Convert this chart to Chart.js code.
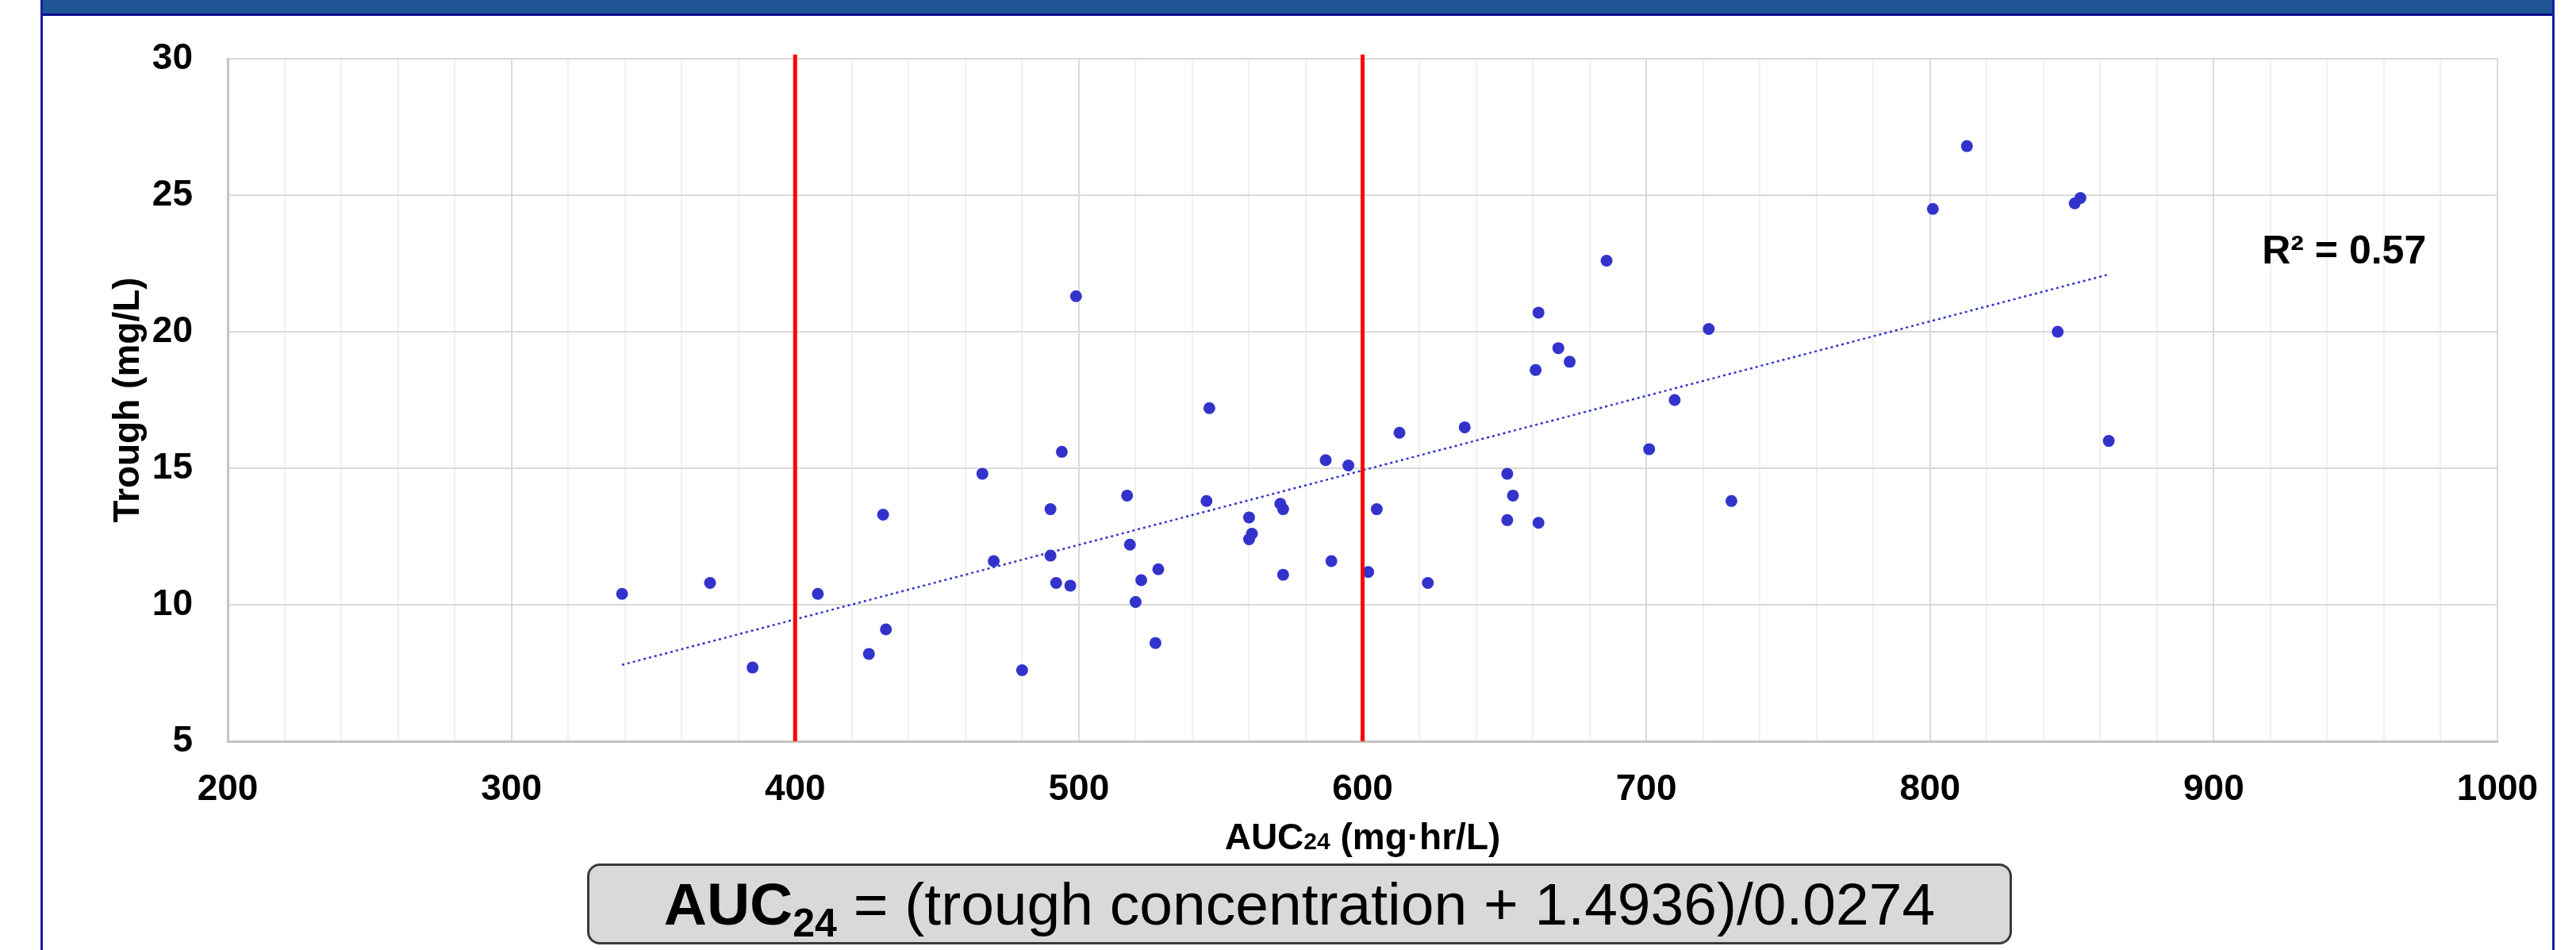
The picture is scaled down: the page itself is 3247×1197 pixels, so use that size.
<!DOCTYPE html>
<html>
<head>
<meta charset="utf-8">
<script src="https://cdn.jsdelivr.net/npm/chart.js@4.4.1/dist/chart.umd.min.js"></script>
<style>
    body { margin: 0; background: #ffffff; }
    #page { position: relative; width: 3247px; height: 1197px; overflow: hidden; font-family: "Liberation Sans", Arial, sans-serif; }
    #troughAucChart { position: absolute; left: 0; top: 0; }
    #banner { position: absolute; left: 52px; top: 0; width: 3168px; height: 17px; background: #1f5597; border-bottom: 3px solid #0a0a8c; }
    .frame-side { position: absolute; top: 0; width: 3px; height: 1197px; background: #1c1caa; }
    #formula-box {
        position: absolute; left: 740px; top: 1088px; width: 1790px; height: 96px;
        background: #d9d9d9; border: 3px solid #3a3a3a; border-radius: 16px;
        display: flex; align-items: center; justify-content: center;
        font-size: 75px; color: #000; white-space: nowrap;
    }
    #formula-box b sub { font-size: 50px; vertical-align: -15px; line-height: 0; }
</style>
</head>
<body>
<div id="page">
    <canvas id="troughAucChart" width="3247" height="1197"></canvas>
    <div id="banner"></div>
    <div class="frame-side" style="left: 51px;"></div>
    <div class="frame-side" style="left: 3217px;"></div>
    <div id="formula-box"><span><b>AUC<sub>24</sub></b> = (trough concentration + 1.4936)/0.0274</span></div>
</div>
<script>
// AUC24 (mg·hr/L) and trough (mg/L) for each patient
const aucValues = [
    339, 370, 385, 408, 426, 431, 432,
    466, 470, 480, 490, 490, 492, 494, 497, 499,
    517, 518, 520, 522, 527, 528, 545, 546,
    560, 560, 561, 571, 572, 572, 587, 589, 595,
    602, 605, 613, 623, 636, 651, 651, 653, 661, 662, 662, 669, 673,
    686, 701, 710, 722, 730, 801, 813, 845, 851, 853, 863
];
const troughValues = [
    10.4, 10.8, 7.7, 10.4, 8.2, 13.3, 9.1,
    14.8, 11.6, 7.6, 13.5, 11.8, 10.8, 15.6, 10.7, 21.3,
    14.0, 12.2, 10.1, 10.9, 8.6, 11.3, 13.8, 17.2,
    13.2, 12.4, 12.6, 13.7, 13.5, 11.1, 15.3, 11.6, 15.1,
    11.2, 13.5, 16.3, 10.8, 16.5, 14.8, 13.1, 14.0, 18.6, 20.7, 13.0, 19.4, 18.9,
    22.6, 15.7, 17.5, 20.1, 13.8, 24.5, 26.8, 20.0, 24.7, 24.9, 16.0
];

// linear trendline end points
const trendX = [339, 863];
const trendY = [7.8, 22.1];

// AUC24 target window
const targetLines = [400, 600];

const xTickStep = 20;
const xLabelStep = 100;
const yTicks = [5, 10, 15, 20, 25, 30];

const yAxisTitle = 'Trough (mg/L)';
const r2Label = 'R\u00B2 = 0.57';

const pointColor = '#3333cc';
const fontFamily = '"Liberation Sans", Arial, sans-serif';

const scatterPoints = aucValues.map((auc, i) => ({ x: auc, y: troughValues[i] }));
const trendPoints = trendX.map((x, i) => ({ x: x, y: trendY[i] }));

const targetDatasets = targetLines.map(value => ({
    data: [{ x: value, y: yTicks[0] }, { x: value, y: yTicks[yTicks.length - 1] + 0.15 }],
    showLine: true,
    borderColor: '#ff0000',
    borderWidth: 5,
    pointRadius: 0,
    clip: false,
    order: 0
}));

const chartTextPlugin = {
    id: 'chartText',
    afterDraw(chart) {
        const ctx = chart.ctx;
        const area = chart.chartArea;
        const xScale = chart.scales.x;
        const yScale = chart.scales.y;

        ctx.save();
        ctx.fillStyle = '#000000';

        // y axis title
        ctx.save();
        ctx.translate(162, (area.top + area.bottom) / 2);
        ctx.rotate(-Math.PI / 2);
        ctx.font = 'bold 46px ' + fontFamily;
        ctx.textAlign = 'center';
        ctx.textBaseline = 'middle';
        ctx.fillText(yAxisTitle, 0, 0);
        ctx.restore();

        // x axis title: AUC + small 24 + units
        const parts = [
            { text: 'AUC', font: 'bold 46px ' + fontFamily },
            { text: '24', font: 'bold 30px ' + fontFamily },
            { text: ' (mg\u00B7hr/L)', font: 'bold 46px ' + fontFamily }
        ];
        let totalWidth = 0;
        parts.forEach(p => {
            ctx.font = p.font;
            p.width = ctx.measureText(p.text).width;
            totalWidth += p.width;
        });
        let xPos = (area.left + area.right) / 2 - totalWidth / 2;
        ctx.textAlign = 'left';
        ctx.textBaseline = 'alphabetic';
        parts.forEach(p => {
            ctx.font = p.font;
            ctx.fillText(p.text, xPos, 1070);
            xPos += p.width;
        });

        // R² label
        ctx.font = 'bold 50px ' + fontFamily;
        ctx.fillText(r2Label, xScale.getPixelForValue(917), yScale.getPixelForValue(22.5));

        ctx.restore();
    }
};

const troughAucCtx = document.getElementById('troughAucChart').getContext('2d');

const troughAucChart = new Chart(troughAucCtx, {
    type: 'scatter',
    data: {
        datasets: [
            ...targetDatasets,
            {
                data: scatterPoints,
                backgroundColor: pointColor,
                borderWidth: 0,
                pointRadius: 7.5,
                order: 1
            },
            {
                data: trendPoints,
                showLine: true,
                borderColor: pointColor,
                borderWidth: 2.5,
                borderDash: [3, 4],
                pointRadius: 0,
                order: 2
            }
        ]
    },
    options: {
        responsive: false,
        animation: false,
        devicePixelRatio: 1,
        layout: {
            padding: { left: 52, top: 74, right: 99, bottom: 0 }
        },
        plugins: {
            legend: { display: false },
            tooltip: { enabled: false }
        },
        scales: {
            x: {
                type: 'linear',
                min: 200,
                max: 1000,
                afterFit: function(scale) {
                    scale.height = 263;
                },
                ticks: {
                    stepSize: xTickStep,
                    padding: 34,
                    color: '#000000',
                    font: { family: fontFamily, size: 46, weight: 'bold' },
                    maxRotation: 0,
                    autoSkip: false,
                    callback: function(value) {
                        return value % xLabelStep === 0 ? value : '';
                    }
                },
                grid: {
                    drawTicks: false,
                    lineWidth: 2,
                    color: function(context) {
                        return context.tick && context.tick.value % xLabelStep === 0 ? '#d9d9d9' : '#f0f0f0';
                    }
                },
                border: { color: '#c4c4c4', width: 3 }
            },
            y: {
                type: 'linear',
                min: yTicks[0],
                max: yTicks[yTicks.length - 1],
                afterFit: function(scale) {
                    scale.width = 235;
                },
                ticks: {
                    stepSize: 5,
                    padding: 44,
                    color: '#000000',
                    font: { family: fontFamily, size: 46, weight: 'bold' }
                },
                grid: {
                    drawTicks: false,
                    lineWidth: 2,
                    color: '#d9d9d9'
                },
                border: { color: '#c4c4c4', width: 3 }
            }
        }
    },
    plugins: [chartTextPlugin]
});
</script>
</body>
</html>
